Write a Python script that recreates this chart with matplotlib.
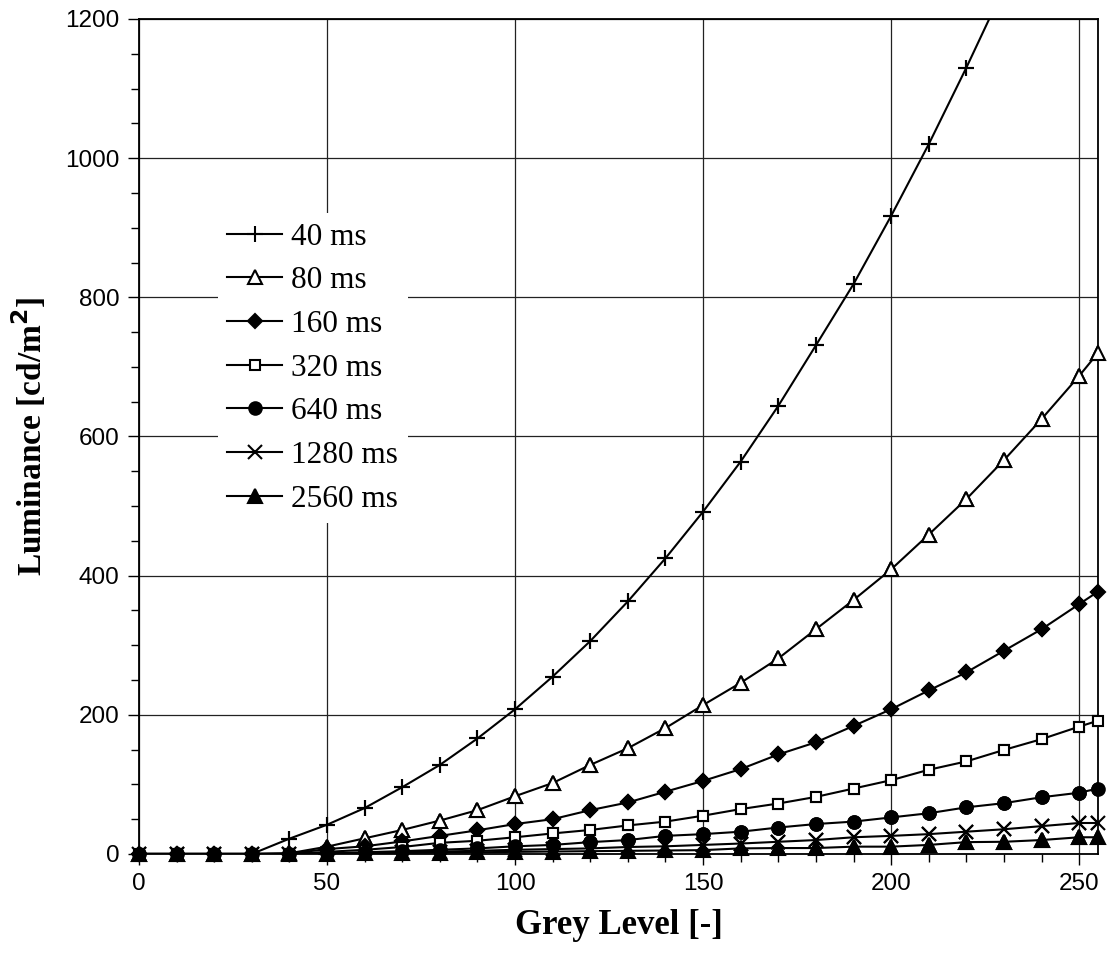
import numpy as np
import matplotlib
matplotlib.use("Agg")
import matplotlib.pyplot as plt
from matplotlib.ticker import MultipleLocator

# grey levels (last point at 255)
grey = [0, 10, 20, 30, 40, 50, 60, 70, 80, 90, 100, 110, 120, 130, 140,
        150, 160, 170, 180, 190, 200, 210, 220, 230, 240, 250, 255]

# luminance [cd/m2] for each exposure time
lum_40 = [0, 0, 0, 0, 22, 42, 66, 96, 128, 166, 208, 255, 306, 363, 425,
          492, 564, 644, 731, 819, 917, 1020, 1130, 1245, 1365, 1490, 1555]
lum_80 = [0, 0, 0, 0, 1, 10.5, 22.5, 34.5, 48, 63, 83, 102, 128, 152, 181,
          214, 246, 281, 323, 365, 409, 459, 510, 566, 625, 687, 720]
lum_160 = [0, 0, 0, 0, 0.5, 7, 11, 18, 26, 34, 43, 50, 63, 74, 89.5,
           105, 122, 143, 160.5, 184, 208, 235, 261, 292, 323, 359, 377]
lum_320 = [0, 0, 0, 0, 0, 3, 6, 10, 16, 19, 24, 29.5, 34.5, 41, 46.5,
           55, 64.5, 72.5, 82, 94, 106, 121, 133, 149.5, 165, 183, 191.5]
lum_640 = [0, 0, 0, 0, 0, 1, 2.5, 4, 6, 8, 11, 13, 17, 20, 26,
           28.5, 32, 38, 43, 46.5, 52.5, 58.5, 67, 73, 81.5, 88, 94]
lum_1280 = [0, 0, 0, 0, 0, 0.5, 1.5, 2.5, 3.5, 4.5, 6, 7, 8, 10, 11,
            13, 15, 17.5, 20, 24, 26, 28.5, 32, 35.5, 40, 44.5, 44.5]
lum_2560 = [0, 0, 0, 0, 0, 0.5, 1, 1.5, 2, 2.5, 3, 3.5, 4, 4.5, 5,
            5.5, 8, 8.5, 8.5, 10.5, 10.5, 13, 17, 17.5, 20, 24, 24]

labels = ["40 ms", "80 ms", "160 ms", "320 ms", "640 ms", "1280 ms", "2560 ms"]
series = [lum_40, lum_80, lum_160, lum_320, lum_640, lum_1280, lum_2560]
# (marker, size, filled)
styles = [("+", 11.5, True), ("^", 10.5, False), ("D", 6.8, True),
          ("s", 7.2, False), ("o", 9, True), ("x", 10.5, True), ("^", 10, True)]

YMAX = 1200

fig = plt.figure(figsize=(11.14, 9.58), dpi=100)
ax = fig.add_axes([0.1248, 0.1086, 0.8608, 0.8716])

for y, lab, (m, ms, filled) in zip(series, labels, styles):
    fc = "black" if filled else "white"
    ax.plot(grey, y, color="black", lw=1.5, marker=m, ms=ms, mew=1.5,
            mec="black", mfc=fc, label=lab)
    # markers on the frame edges are drawn whole, like the original
    ym = np.ma.masked_greater(np.array(y, dtype=float), YMAX)
    ax.plot(grey, ym, ls="none", marker=m, ms=ms, mew=1.5, mec="black",
            mfc=fc, clip_on=False, zorder=3)

ax.set_xlim(0, 255)
ax.set_ylim(0, YMAX)
ax.xaxis.set_major_locator(MultipleLocator(50))
ax.xaxis.set_minor_locator(MultipleLocator(10))
ax.yaxis.set_major_locator(MultipleLocator(200))
ax.yaxis.set_minor_locator(MultipleLocator(50))
ax.grid(True, which="major", color="#222222", lw=0.9)
ax.axvline(255, color="#222222", lw=0.9)
ax.set_axisbelow(True)

ax.tick_params(which="both", direction="out", width=1, colors="black")
ax.tick_params(which="major", length=8, labelsize=17.5, pad=6)
ax.tick_params(which="minor", length=6)
for t in ax.get_xticklabels() + ax.get_yticklabels():
    t.set_fontfamily("Liberation Sans")
for s in ax.spines.values():
    s.set_linewidth(1.3)

ax.set_xlabel("Grey Level [-]", fontsize=25, fontweight="bold",
              family="Liberation Serif", labelpad=10)
ax.set_ylabel("Luminance [cd/m$^\\mathbf{2}$]", fontsize=24, fontweight="bold",
              family="Liberation Serif", labelpad=12)

leg = ax.legend(loc="upper left", bbox_to_anchor=(0.066, 0.786),
                prop={"family": "Liberation Serif", "size": 22.5},
                frameon=True, fancybox=False, edgecolor="none",
                facecolor="white", framealpha=1, handlelength=1.75,
                handletextpad=0.3, labelspacing=0.47, borderpad=0.3)
leg.set_zorder(5)

fig.savefig("out.png", dpi=100)
